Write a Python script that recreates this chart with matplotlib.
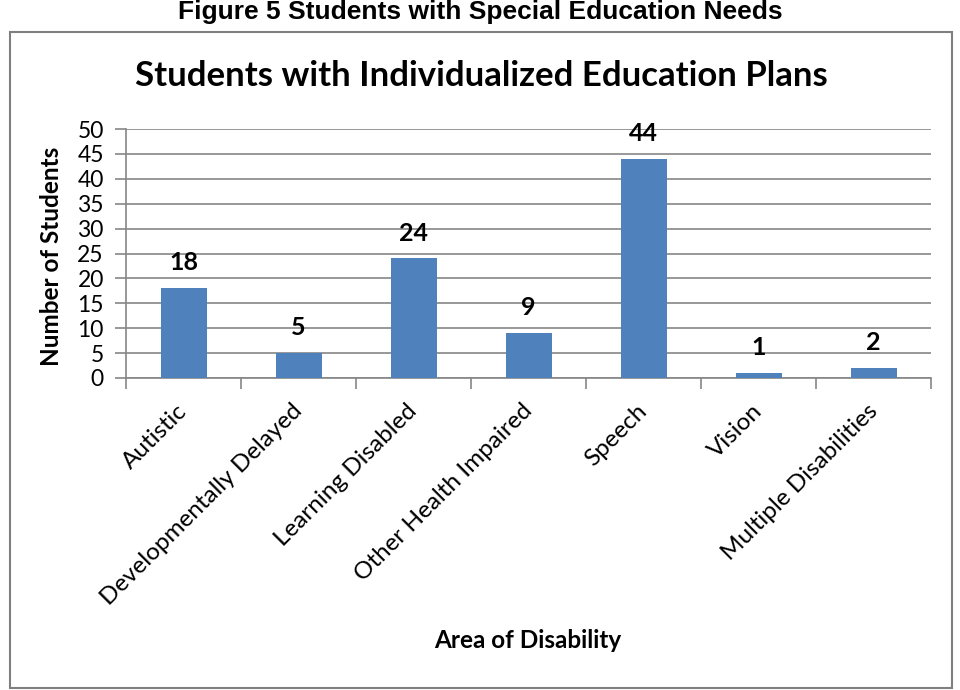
import matplotlib.pyplot as plt
from matplotlib.patches import Rectangle
from matplotlib.transforms import ScaledTranslation
import numpy as np

# data
categories = ['Autistic', 'Developmentally Delayed', 'Learning Disabled',
              'Other Health Impaired', 'Speech', 'Vision', 'Multiple Disabilities']
students = [18, 5, 24, 9, 44, 1, 2]
y_ticks = list(range(0, 55, 5))

bar_color = '#4F81BD'
grid_color = '#868686'
body_font = 'Lato'

fig = plt.figure(figsize=(9.6, 6.9), dpi=100)

# outer frame around the chart
fig.patches.append(Rectangle((10 / 960, 2 / 690), 942 / 960, 656 / 690,
                             transform=fig.transFigure, fill=False,
                             edgecolor='#7f7f7f', linewidth=1.5))

fig.text(0.5, 0.982, 'Figure 5 Students with Special Education Needs',
         ha='center', va='center', fontsize=19, fontweight='bold',
         family='Liberation Sans')
fig.text(0.501, 0.89, 'Students with Individualized Education Plans',
         ha='center', va='center', fontsize=25, fontweight='bold',
         family=body_font)

ax = fig.add_axes([126 / 960, (690 - 378) / 690, 805 / 960, 249 / 690])
x = np.arange(len(categories))
bars = ax.bar(x, students, width=0.4, color=bar_color, zorder=3)

for xi, v in zip(x, students):
    ax.text(xi, v + 2.8, str(v), ha='center', va='bottom', fontsize=18,
            fontweight='bold', family=body_font)

ax.set_xlim(-0.5, len(categories) - 0.5)
ax.set_ylim(0, 50)
ax.set_yticks(y_ticks)
ax.set_yticklabels([str(t) for t in y_ticks], family=body_font, fontsize=16.5)
ax.yaxis.grid(True, color=grid_color, linewidth=1.2, zorder=0)

ax.set_xticks(x)
ax.set_xticklabels(categories, rotation=45, ha='right', va='top',
                   rotation_mode='anchor', family=body_font, fontsize=17.5)
ax.tick_params(axis='x', length=0, pad=16)
ax.set_xticks(np.arange(-0.5, len(categories), 1), minor=True)
ax.tick_params(axis='x', which='minor', length=8, color=grid_color, width=1.2)
ax.tick_params(axis='y', length=8, color=grid_color, width=1.2, pad=8)

# nudge the slanted labels a little to the left
shift = ScaledTranslation(-7 / 100, 0, fig.dpi_scale_trans)
for lbl in ax.get_xticklabels():
    lbl.set_transform(lbl.get_transform() + shift)

for side in ['top', 'right']:
    ax.spines[side].set_visible(False)
for side in ['left', 'bottom']:
    ax.spines[side].set_color(grid_color)
    ax.spines[side].set_linewidth(1.2)

fig.text(52 / 960, (690 - 256) / 690, 'Number of Students', rotation=90,
         ha='center', va='center', fontsize=17.5, fontweight='bold', family=body_font)
fig.text(528 / 960, (690 - 640) / 690, 'Area of Disability',
         ha='center', va='center', fontsize=17.5, fontweight='bold', family=body_font)

fig.savefig('out.png', dpi=100)
